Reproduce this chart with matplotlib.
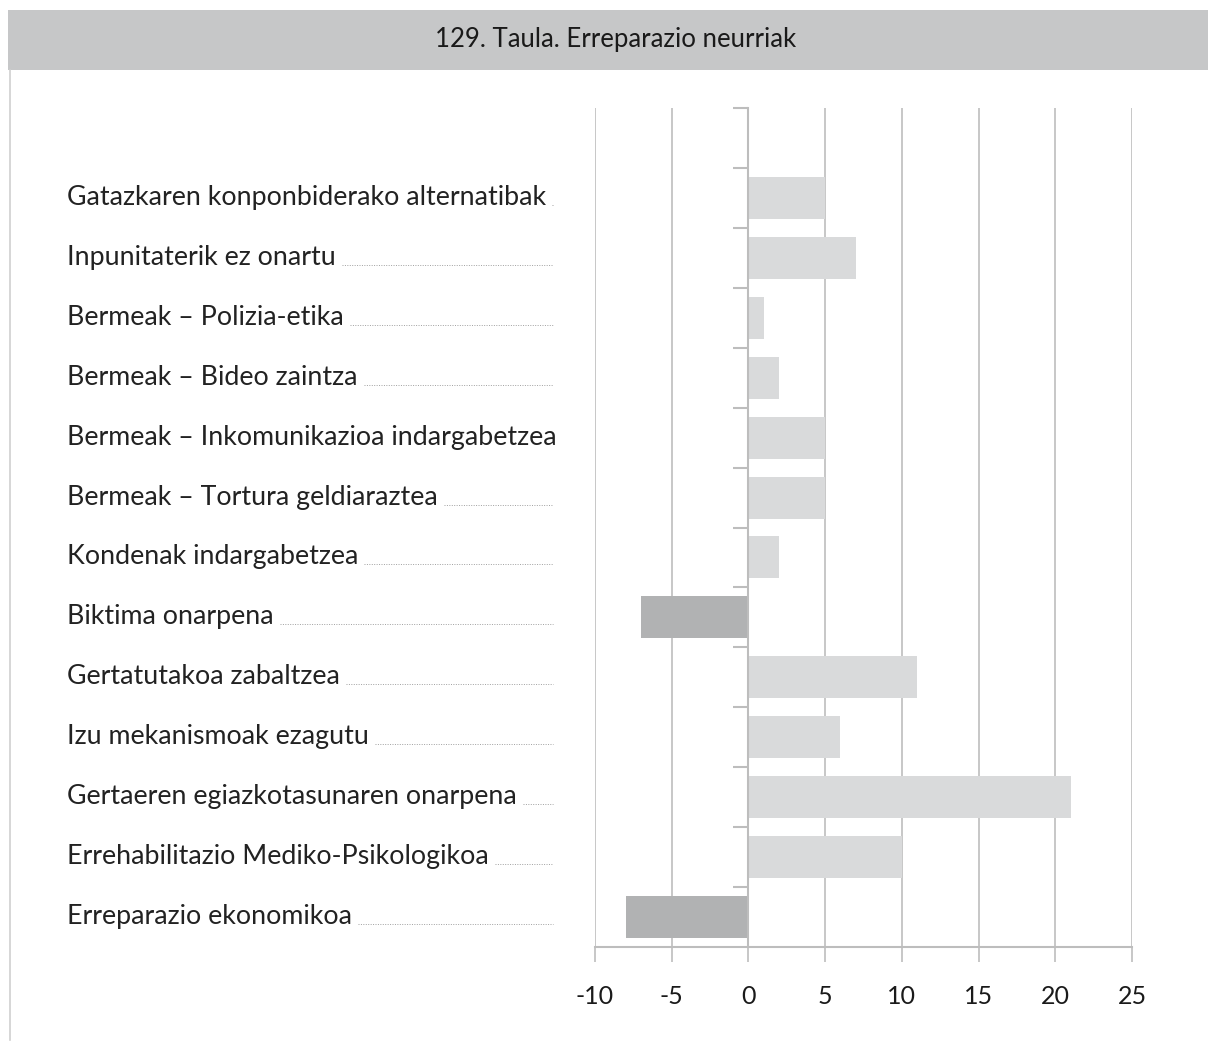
import matplotlib.pyplot as plt
from matplotlib.lines import Line2D
from matplotlib.patches import Rectangle

title = "129. Taula. Erreparazio neurriak"
categories = [
    "Gatazkaren konponbiderako alternatibak",
    "Inpunitaterik ez onartu",
    "Bermeak – Polizia-etika",
    "Bermeak – Bideo zaintza",
    "Bermeak – Inkomunikazioa indargabetzea",
    "Bermeak – Tortura geldiaraztea",
    "Kondenak indargabetzea",
    "Biktima onarpena",
    "Gertatutakoa zabaltzea",
    "Izu mekanismoak ezagutu",
    "Gertaeren egiazkotasunaren onarpena",
    "Errehabilitazio Mediko-Psikologikoa",
    "Erreparazio ekonomikoa",
]
values = [5, 7, 1, 2, 5, 5, 2, -7, 11, 6, 21, 10, -8]
xticks = [-10, -5, 0, 5, 10, 15, 20, 25]

W, H = 1208, 1046
fig = plt.figure(figsize=(W / 100, H / 100), dpi=100)
plt.rcParams["font.family"] = ["Lato", "DejaVu Sans"]

# title band and left frame line
fig.patches.append(Rectangle((8 / W, 1 - 70 / H), 1, 60 / H, transform=fig.transFigure,
                             facecolor="#c6c7c8", edgecolor="none"))
fig.lines.append(Line2D([10 / W, 10 / W], [1 - 70 / H, 1 - 1040 / H], transform=fig.transFigure,
                        color="#d0d0d0", lw=1.2))
fig.text(616 / W, 1 - 40 / H, title, ha="center", va="center", fontsize=18.5, color="#1a1a1a")

ax = fig.add_axes([595 / W, 1 - 947 / H, (1132 - 595) / W, (947 - 108) / H])
n = len(categories)
ypos = [n - 1 - i for i in range(n)]
colors = ["#b1b2b3" if v < 0 else "#d9dadb" for v in values]
ax.barh(ypos, values, height=0.7, color=colors, zorder=2)
ax.set_xlim(-10, 25)
ax.set_ylim(-0.5, n + 0.5)
ax.set_xticks(xticks)
ax.set_xticklabels([str(t) for t in xticks], fontsize=18, color="#1a1a1a")
ax.grid(axis="x", color="#bdbdbd", lw=1.2, zorder=0)
ax.tick_params(axis="x", length=11, width=1.2, color="#bdbdbd", pad=16)

for s in ["top", "right"]:
    ax.spines[s].set_visible(False)
ax.spines["bottom"].set_color("#bdbdbd")
ax.spines["bottom"].set_linewidth(1.5)
ax.spines["left"].set_position(("data", 0))
ax.spines["left"].set_color("#bdbdbd")
ax.spines["left"].set_linewidth(1.5)
ax.spines["left"].set_zorder(3)
ax.set_yticks([k + 0.5 for k in range(n + 1)])
ax.set_yticklabels([])
ax.tick_params(axis="y", length=11, width=1.5, color="#bdbdbd", direction="out")

# category labels with dotted leaders
fig.canvas.draw()
renderer = fig.canvas.get_renderer()
for i, lab in enumerate(categories):
    yc = ax.transData.transform((0, ypos[i]))[1] / H
    yb = yc - 7 / H
    t = fig.text(67 / W, yb, lab, ha="left", va="baseline", fontsize=19.3, color="#222222")
    ext = t.get_window_extent(renderer)
    x0 = (ext.x1 + 6) / W
    if x0 < 553 / W:
        fig.lines.append(Line2D([x0, 553 / W], [yb, yb], transform=fig.transFigure,
                                color="#a0a0a0", lw=0.7, ls=(0, (1, 1.5))))

fig.savefig("out.png", dpi=100, facecolor="white")
